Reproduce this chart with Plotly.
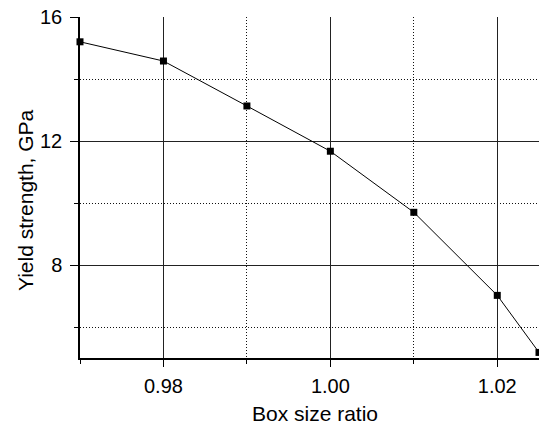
import plotly.graph_objects as go

box_ratio = [0.97, 0.98, 0.99, 1.00, 1.01, 1.02, 1.025]
yield_gpa = [15.2, 14.58, 13.13, 11.67, 9.70, 7.02, 5.18]

x_tickvals = [0.98, 1.00, 1.02]
x_ticktext = ["0.98", "1.00", "1.02"]
y_tickvals = [8, 12, 16]
y_ticktext = ["8", "12", "16"]
x_title = "Box size ratio"
y_title = "Yield strength, GPa"

fig = go.Figure()
fig.add_trace(go.Scatter(
    x=box_ratio, y=yield_gpa, mode="lines+markers",
    line=dict(color="black", width=1),
    marker=dict(symbol="square", size=7, color="black"),
    cliponaxis=False, showlegend=False,
))

font = dict(family="Liberation Sans, Arial, sans-serif", size=20, color="black")

fig.update_layout(
    width=539, height=426,
    margin=dict(l=80, r=0, t=17, b=68, autoexpand=False),
    paper_bgcolor="white", plot_bgcolor="white",
    font=font,
    xaxis=dict(
        range=[0.97, 1.025], tickmode="array", tickvals=x_tickvals, ticktext=x_ticktext,
        showgrid=True, gridcolor="#222", gridwidth=1,
        ticks="outside", ticklen=7, tickcolor="black",
        showline=True, linecolor="black", linewidth=1.5,
        zeroline=False,
        minor=dict(dtick=0.01, tick0=0.97, showgrid=True, gridcolor="#111", griddash="1px,2px",
                   gridwidth=1, ticks="outside", ticklen=4, tickcolor="black"),
        ticklabelstandoff=2,
        automargin=False,
    ),
    yaxis=dict(
        range=[5, 16], tickmode="array", tickvals=y_tickvals, ticktext=y_ticktext,
        showgrid=True, gridcolor="#222", gridwidth=1,
        ticks="outside", ticklen=8, tickcolor="black",
        showline=True, linecolor="black", linewidth=1.5,
        zeroline=False,
        minor=dict(dtick=2, tick0=6, showgrid=True, gridcolor="#111", griddash="1px,2px",
                   gridwidth=1, ticks="outside", ticklen=4, tickcolor="black"),
        ticklabelstandoff=4,
        automargin=False,
    ),
    annotations=[
        dict(text=x_title, xref="paper", yref="paper", x=0.512, y=-0.162,
             xanchor="center", yanchor="middle", showarrow=False, font=dict(size=21),
             borderpad=0),
        dict(text=y_title, xref="paper", yref="paper", x=-0.1198, y=0.4633,
             xanchor="center", yanchor="middle", showarrow=False, textangle=-90,
             font=dict(size=21), borderpad=0),
    ],
)

fig.write_html("out.html", config={"displayModeBar": False},
               post_script="document.body.style.margin='0';")
